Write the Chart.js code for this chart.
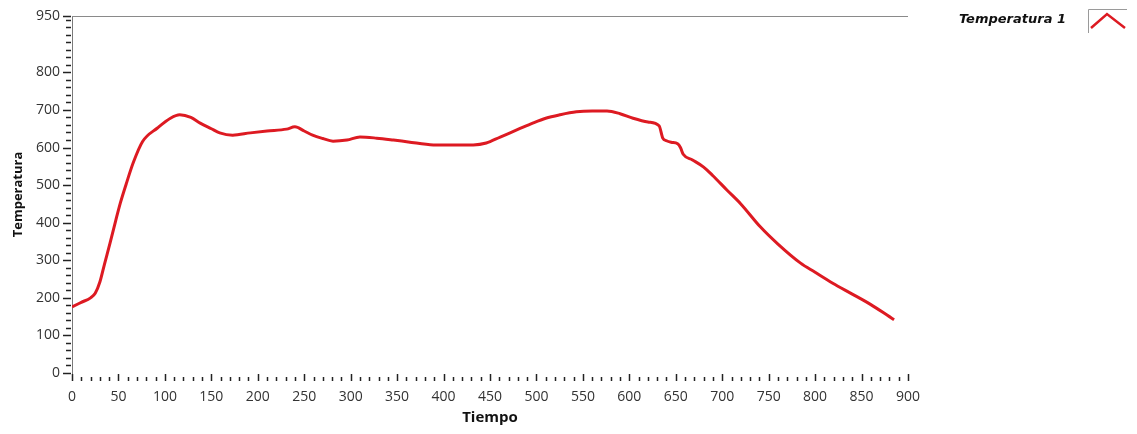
<!DOCTYPE html>
<html>
<head>
<meta charset="utf-8">
<script src="https://cdn.jsdelivr.net/npm/chart.js@4/dist/chart.umd.min.js"></script>
<style>
  html, body { margin: 0; padding: 0; background: #ffffff; }
  #wrap { width: 1137px; height: 434px; }
</style>
</head>
<body>
<div id="wrap"><canvas id="c" width="1137" height="434"></canvas></div>
<script>
// ---- data ----
const seriesName = "Temperatura 1";
const xTitle = "Tiempo";
const yTitle = "Temperatura";
const tiempo = [0,10,20,25,30,35,41,47,52,59,66,76,92,106,116,128,138,150,159,173,192,210,231,240,250,259,270,281,296,310,328,346,362,389,410,432,446,461,480,496,510,525,543,560,576,590,604,620,632,636,640,645,652,655,658,668,680,690,705,720,741,760,784,800,819,840,860,880,885];
const temperatura = [176,188,200,212,242,290,346,405,452,508,560,616,652,678,687,680,665,650,639,633,639,644,649,655,644,633,624,617,620,628,625,620,615,607,607,607,612,628,648,665,678,687,695,697,697,690,678,668,658,625,618,614,610,600,582,567,548,525,487,450,389,343,293,268,239,210,182,150,142];
const yLabelValues = [0,100,200,300,400,500,600,700,800,950];
const xMin = 0, xMax = 900, xStep = 50, xMinorStep = 10;
const yMin = 0, yMax = 950, yMinorStep = 20;

const points = tiempo.map((t, i) => ({ x: t, y: temperatura[i] }));

const FONT = "'Open Sans', 'DejaVu Sans', sans-serif";
const TEXT = '#333333';

const ticksPlugin = {
  id: 'labviewTicks',
  afterDraw(chart) {
    const ctx = chart.ctx;
    const xs = chart.scales.x, ys = chart.scales.y;
    const area = chart.chartArea;
    ctx.save();
    // top border
    ctx.strokeStyle = '#8a8a8a';
    ctx.lineWidth = 1;
    ctx.beginPath();
    ctx.moveTo(area.left, area.top + 0.5);
    ctx.lineTo(area.right, area.top + 0.5);
    ctx.stroke();
    // y ticks
    ctx.strokeStyle = '#222222';
    ctx.lineWidth = 1.5;
    const yVals = [];
    for (let v = yMin; v < yMax; v += yMinorStep) yVals.push(v);
    yVals.push(yMax);
    yVals.forEach(v => {
      const py = Math.round(ys.getPixelForValue(v)) + 0.5;
      const major = yLabelValues.includes(v);
      const len = major ? 8 : 5;
      ctx.beginPath();
      ctx.moveTo(area.left - 1 - len, py);
      ctx.lineTo(area.left - 1, py);
      ctx.stroke();
    });
    // x ticks
    for (let v = xMin; v <= xMax; v += xMinorStep) {
      const px = Math.round(xs.getPixelForValue(v)) + 0.5;
      const major = v % xStep === 0;
      ctx.beginPath();
      ctx.moveTo(px, area.bottom + (major ? 1 : 4));
      ctx.lineTo(px, area.bottom + 8);
      ctx.stroke();
    }
    // legend
    const ds = chart.data.datasets[0];
    ctx.fillStyle = '#111111';
    ctx.font = "italic bold 13px 'DejaVu Sans', sans-serif";
    ctx.textAlign = 'right';
    ctx.textBaseline = 'middle';
    ctx.fillText(ds.label, 1066, 20);
    // legend icon frame
    ctx.strokeStyle = '#9a9a9a';
    ctx.lineWidth = 1;
    ctx.beginPath();
    ctx.moveTo(1088.5, 33);
    ctx.lineTo(1088.5, 9.5);
    ctx.lineTo(1127, 9.5);
    ctx.stroke();
    ctx.strokeStyle = ds.borderColor;
    ctx.lineWidth = 2.5;
    ctx.beginPath();
    ctx.moveTo(1091, 28);
    ctx.lineTo(1107, 14);
    ctx.lineTo(1125, 28);
    ctx.stroke();
    ctx.restore();
  }
};

new Chart(document.getElementById('c'), {
  type: 'line',
  data: {
    datasets: [{
      label: seriesName,
      data: points,
      borderColor: '#dd1a22',
      backgroundColor: '#dd1a22',
      borderWidth: 3,
      pointRadius: 0,
      fill: false,
      cubicInterpolationMode: 'monotone'
    }]
  },
  options: {
    responsive: false,
    animation: false,
    layout: { padding: { top: 16, right: 229, left: 0, bottom: 0 } },
    plugins: { legend: { display: false }, tooltip: { enabled: false } },
    scales: {
      x: {
        type: 'linear',
        min: xMin, max: xMax,
        grid: { display: false },
        border: { display: false },
        ticks: { stepSize: xStep, color: TEXT, font: { family: FONT, size: 14 }, padding: 8, maxRotation: 0, autoSkip: false },
        title: { display: true, text: xTitle, color: '#111111', font: { family: FONT, size: 15, weight: 'bold' }, padding: { top: 0, bottom: 7 } },
        afterFit(s) { s.height = 61; }
      },
      y: {
        type: 'linear',
        min: yMin, max: yMax,
        grid: { display: false },
        border: { display: true, color: '#7a7a7a', width: 1 },
        afterBuildTicks(s) { s.ticks = yLabelValues.map(v => ({ value: v })); },
        ticks: { color: TEXT, font: { family: FONT, size: 14 }, padding: 4, autoSkip: false },
        title: { display: true, text: yTitle, color: '#111111', font: { family: FONT, size: 13, weight: 'bold' }, padding: { top: 10, bottom: 0 } },
        afterFit(s) { s.width = 72; }
      }
    }
  },
  plugins: [ticksPlugin]
});
</script>
</body>
</html>
